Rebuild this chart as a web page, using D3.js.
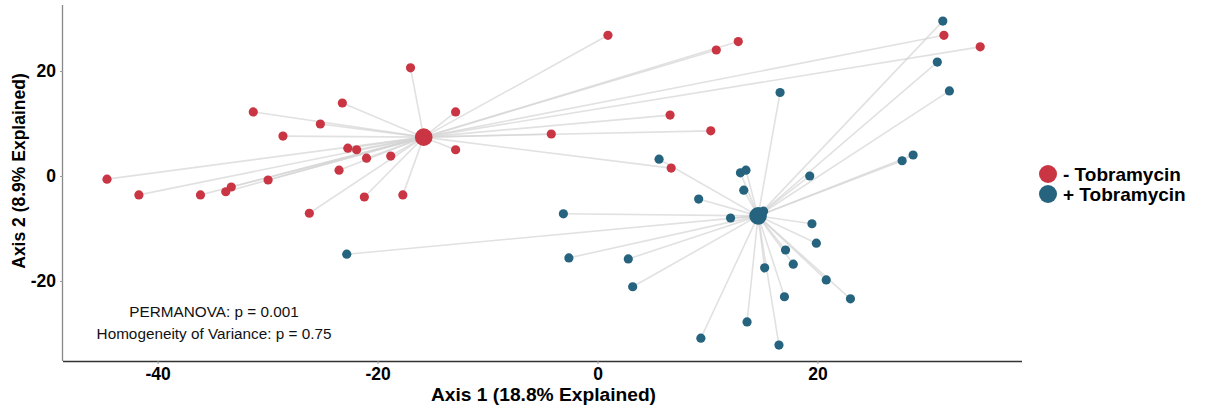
<!DOCTYPE html>
<html>
<head>
<meta charset="utf-8">
<script src="https://cdn.jsdelivr.net/npm/d3@7"></script>
<style>
  html, body { margin: 0; padding: 0; background: #fff; }
  svg { display: block; }
</style>
</head>
<body>
<svg id="chart" width="1207" height="410"></svg>
<script>
// ---- data ----
const groups = ["- Tobramycin", "+ Tobramycin"];
const colors = ["#C93542", "#25637E"];

const minusX = [-44.6, -41.7, -36.1, -33.8, -33.3, -29.95, -31.3, -28.6, -25.2, -23.2,
                -17.0, -22.7, -21.9, -21.0, -18.8, -23.5, -12.9, -12.9, -26.2, -21.2,
                -17.7, 0.95, 10.8, 12.8, 6.6, 10.3, -4.2, 6.7, 31.5, 34.8];
const minusY = [-0.6, -3.6, -3.6, -3.0, -2.1, -0.76, 12.2, 7.6, 9.9, 13.9,
                20.6, 5.3, 5.0, 3.4, 3.8, 1.1, 12.2, 5.0, -7.1, -4.0,
                -3.6, 26.8, 24.0, 25.6, 11.6, 8.6, 8.0, 1.5, 26.8, 24.6];

const plusX = [5.6, 13.0, 13.5, 13.3, 16.6, 19.3, 9.2, 12.1, 15.1, 19.5,
               19.9, 17.1, 17.8, 15.2, 20.8, 23.0, 17.0, 13.6, 9.4, 16.5,
               2.8, 3.2, 27.7, 28.7, 31.4, 30.9, 32.0, -3.1, -2.6, -22.8];
const plusY = [3.2, 0.6, 1.1, -2.7, 15.9, 0.0, -4.4, -8.0, -6.7, -9.1,
               -12.8, -14.1, -16.8, -17.5, -19.8, -23.4, -23.0, -27.8, -30.9, -32.2,
               -15.8, -21.1, 2.9, 4.0, 29.5, 21.7, 16.2, -7.2, -15.6, -14.9];

const centroidX = [-15.8, 14.6];
const centroidY = [7.4, -7.6];

const xTicks = [-40, -20, 0, 20];
const yTicks = [-20, 0, 20];
const xLabel = "Axis 1 (18.8% Explained)";
const yLabel = "Axis 2 (8.9% Explained)";
const notes = ["PERMANOVA: p = 0.001", "Homogeneity of Variance: p = 0.75"];

// ---- build ----
const seriesX = [minusX, plusX];
const seriesY = [minusY, plusY];
const pts = [];
seriesX.forEach((xs, g) => xs.forEach((v, i) => pts.push({ g, x: v, y: seriesY[g][i] })));

const svg = d3.select("#chart");
const mL = 63, mR = 1022, mT = 5, mB = 361;
const x = d3.scaleLinear().domain([-48.6, 38.6]).range([mL, mR]);
const y = d3.scaleLinear().domain([-35.24, 32.57]).range([mB, mT]);

const font = "'Liberation Sans', Arial, Helvetica, sans-serif";
const fmt = d => String(d);

// spider lines
svg.append("g").selectAll("line").data(pts).join("line")
  .attr("x1", d => x(d.x)).attr("y1", d => y(d.y))
  .attr("x2", d => x(centroidX[d.g])).attr("y2", d => y(centroidY[d.g]))
  .attr("stroke", "#d4d4d4").attr("stroke-opacity", 0.7).attr("stroke-width", 1.6);

// points
svg.append("g").selectAll("circle").data(pts).join("circle")
  .attr("cx", d => x(d.x)).attr("cy", d => y(d.y)).attr("r", 4.6)
  .attr("fill", d => colors[d.g]);

// centroids
svg.append("g").selectAll("circle").data(centroidX).join("circle")
  .attr("cx", (d) => x(d)).attr("cy", (d, i) => y(centroidY[i])).attr("r", 8.8)
  .attr("fill", (d, i) => colors[i]);

// axes
const xAxis = svg.append("g").attr("transform", `translate(0,${mB})`)
  .call(d3.axisBottom(x).tickValues(xTicks).tickSize(3).tickPadding(4).tickFormat(fmt));
xAxis.select(".domain").attr("d", `M${mL},0.5H${mR}`).attr("stroke", "#333").attr("stroke-width", 1.3);
xAxis.selectAll(".tick line").attr("stroke", "#999");
xAxis.selectAll(".tick text").attr("font-family", font).attr("font-weight", "bold")
  .attr("font-size", 17.5).attr("fill", "#000");

const yAxis = svg.append("g").attr("transform", `translate(${mL},0)`)
  .call(d3.axisLeft(y).tickValues(yTicks).tickSize(3).tickPadding(4).tickFormat(fmt));
yAxis.select(".domain").attr("d", `M-0.5,${mT}V${mB}`).attr("stroke", "#888").attr("stroke-width", 1.3);
yAxis.selectAll(".tick line").attr("stroke", "#999");
yAxis.selectAll(".tick text").attr("font-family", font).attr("font-weight", "bold")
  .attr("font-size", 17.5).attr("fill", "#000");

// axis titles
svg.append("text").attr("x", (mL + mR) / 2 + 1).attr("y", 401)
  .attr("text-anchor", "middle").attr("font-family", font).attr("font-weight", "bold")
  .attr("font-size", 19.2).text(xLabel);
svg.append("text").attr("transform", `translate(25,171) rotate(-90)`)
  .attr("text-anchor", "middle").attr("font-family", font).attr("font-weight", "bold")
  .attr("font-size", 17.5).text(yLabel);

// annotations
svg.append("g").selectAll("text").data(notes).join("text")
  .attr("x", 214).attr("y", (d, i) => 317 + i * 22)
  .attr("text-anchor", "middle").attr("font-family", font)
  .attr("font-size", 15.3).attr("fill", "#111").text(d => d);

// legend
const lg = svg.append("g").selectAll("g").data(groups).join("g")
  .attr("transform", (d, i) => `translate(1048,${174 + i * 20})`);
lg.append("circle").attr("r", 9).attr("fill", (d, i) => colors[i]);
lg.append("text").attr("x", 15).attr("y", 6.5).attr("font-family", font)
  .attr("font-weight", "bold").attr("font-size", 19).text(d => d);
</script>
</body>
</html>
